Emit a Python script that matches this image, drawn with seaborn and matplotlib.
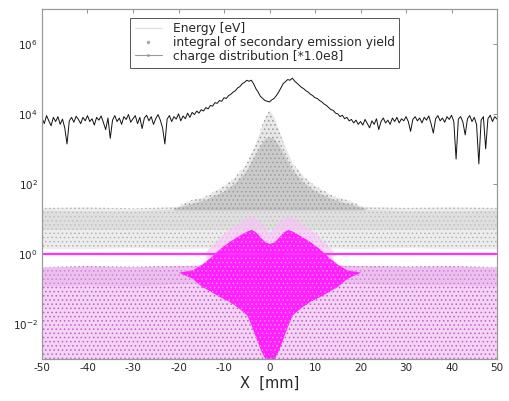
import numpy as np
import pandas as pd
import matplotlib
matplotlib.use("Agg")
import matplotlib.pyplot as plt
from matplotlib.lines import Line2D
import seaborn as sns

# ---- energy profile [eV] (log10 values), 0.5 mm steps from -50 to 50 ----
energy_log = [
    # -50 ... -17
    3.88, 3.72, 3.95, 3.80, 3.66, 3.90, 3.78, 3.92, 3.70, 3.85,
    3.60, 3.14, 3.80, 3.90, 3.76, 3.93, 3.84, 3.72, 3.90, 3.80,
    3.95, 3.78, 3.86, 3.68, 3.90, 3.82, 3.94, 3.75, 3.55, 3.88,
    3.30, 3.82, 3.95, 3.78, 3.88, 3.70, 3.92, 3.84, 3.98, 3.76,
    3.86, 3.95, 3.72, 3.90, 3.58, 3.88, 3.96, 3.80, 3.92, 3.70,
    3.86, 3.98, 3.82, 3.60, 3.14, 3.85, 3.95, 3.78, 3.92, 3.85,
    4.00, 3.80, 3.94, 3.86, 4.02, 3.90, 4.04,
    # -16.5 ... 20
    3.98, 4.08, 4.02, 4.12, 4.08, 4.18, 4.14, 4.24, 4.22, 4.32,
    4.30, 4.38, 4.36, 4.46, 4.44, 4.52, 4.56, 4.62, 4.66, 4.74,
    4.78, 4.86, 4.90, 4.96, 4.93, 4.96, 4.86, 4.72, 4.62, 4.50,
    4.44, 4.38, 4.36, 4.34, 4.40, 4.44, 4.52, 4.62, 4.74, 4.86,
    4.92, 4.98, 4.96, 5.02, 4.94, 4.88, 4.82, 4.76, 4.72, 4.66,
    4.62, 4.56, 4.52, 4.46, 4.44, 4.38, 4.34, 4.28, 4.24, 4.18,
    4.12, 4.10, 4.02, 4.00, 3.92, 3.96, 3.86, 3.90, 3.80, 3.84,
    3.74, 3.82, 3.70, 3.78,
    # 20.5 ... 50
    3.68, 3.84, 3.72, 3.60, 3.80, 3.70, 3.86, 3.55, 3.78, 3.88,
    3.74, 3.82, 3.70, 3.88, 3.78, 3.90, 3.74, 3.86, 3.80, 3.92,
    3.78, 3.50, 3.84, 3.92, 3.80, 3.88, 3.74, 3.90, 3.82, 3.94,
    3.72, 3.45, 3.86, 3.95, 3.80, 3.88, 3.76, 3.92, 3.84, 3.96,
    3.78, 2.71, 3.85, 3.92, 3.76, 3.40, 3.86, 3.95, 3.78, 3.90,
    3.70, 2.57, 3.82, 3.92, 3.00, 3.86, 3.96, 3.78, 3.92, 3.85,
]
energy_x = np.arange(-50, 50.01, 0.5)
energy_ev = [10 ** v for v in energy_log]

# ---- integral of secondary emission yield: broad band and central peak ----
yield_band_x = [-50, -40, -30, -20, -10, 0, 10, 20, 30, 40, 50]
yield_band_low = [1.4, 1.4, 1.5, 1.4, 1.5, 1.5, 1.5, 1.4, 1.5, 1.4, 1.4]
yield_band_high = [21, 22, 20, 23, 24, 24, 24, 23, 21, 22, 21]
yield_dense_low = [5, 5, 5, 5, 5, 5, 5, 5, 5, 5, 5]
yield_dense_high = [18, 17, 17, 19, 20, 20, 20, 19, 17, 17, 18]

yield_peak_x = [-21, -18, -14, -10, -7.5, -5, -3.6, -2, -1, 0,
                1, 2, 3.6, 5, 7.5, 10, 14, 18, 21]
yield_peak_top = [20, 32, 45, 89, 160, 400, 1000, 3500, 8000, 12600,
                  8000, 3500, 1000, 400, 160, 89, 45, 32, 20]
yield_peak_core = [20, 26, 36, 63, 110, 250, 560, 1300, 2000, 2200,
                   2000, 1300, 560, 250, 110, 63, 36, 26, 20]

# ---- charge distribution [*1.0e8] ----
charge_level = 1.0
charge_bg_x = [-50, -40, -30, -20, -10, 0, 10, 20, 30, 40, 50]
charge_bg_low = [0.001] * 11
charge_bg_high = [0.42, 0.45, 0.43, 0.46, 0.5, 0.5, 0.5, 0.46, 0.44, 0.45, 0.42]
charge_bg_dense = [0.12, 0.13, 0.12, 0.14, 0.15, 0.15, 0.15, 0.14, 0.13, 0.13, 0.12]

charge_core_x = [-20, -17, -15, -13, -11, -9, -7, -5, -4, -3, -2, -1, 0,
                 1, 2, 3, 4, 5, 7, 9, 11, 13, 15, 17, 20]
charge_core_top = [0.3, 0.35, 0.5, 0.8, 1.4, 2.2, 3.2, 4.5, 5.0, 4.2, 3.0, 2.2, 2.0,
                   2.2, 3.0, 4.2, 5.0, 4.5, 3.2, 2.2, 1.4, 0.8, 0.5, 0.35, 0.3]
charge_core_bot = [0.3, 0.2, 0.12, 0.085, 0.06, 0.045, 0.03, 0.018, 0.009, 0.004,
                   0.0018, 0.001, 0.001, 0.001, 0.0018, 0.004, 0.009, 0.018,
                   0.03, 0.045, 0.06, 0.085, 0.12, 0.2, 0.3]
charge_halo_x = [-14, -10, -6, -4, -2, 0, 2, 4, 6, 10, 14]
charge_halo_top = [1.2, 4, 9, 13, 8, 4, 8, 13, 9, 4, 1.2]

x_ticks = [-50, -40, -30, -20, -10, 0, 10, 20, 30, 40, 50]
y_ticks = [1e-2, 1e0, 1e2, 1e4, 1e6]

sns.set_style("white")
plt.rcParams["font.family"] = ["DejaVu Sans"]
plt.rcParams["hatch.linewidth"] = 0.6

fig = plt.figure(figsize=(5.09, 4.01), dpi=100)
ax = fig.add_axes([0.0825, 0.105, 0.894, 0.873])
ax.set_yscale("log")

# secondary emission yield clouds
ax.fill_between(yield_band_x, yield_band_low, yield_band_high,
                color="#e2e2e2", alpha=0.6, lw=0)
ax.fill_between(yield_band_x, yield_band_low, yield_band_high,
                facecolor="none", edgecolor="#b4b4b4", hatch="....", lw=0)
ax.fill_between(yield_band_x, yield_dense_low, yield_dense_high,
                color="#cfcfcf", alpha=0.45, lw=0)
ax.fill_between(yield_peak_x, [18] * len(yield_peak_x), yield_peak_top,
                color="#d6d6d6", alpha=0.55, lw=0)
ax.fill_between(yield_peak_x, [18] * len(yield_peak_x), yield_peak_top,
                facecolor="none", edgecolor="#9c9c9c", hatch="....", lw=0)
ax.fill_between(yield_peak_x, [18] * len(yield_peak_x), yield_peak_core,
                color="#9e9e9e", alpha=0.4, lw=0)

# charge distribution clouds
ax.fill_between(charge_bg_x, charge_bg_low, charge_bg_high,
                color="#f4d4f4", lw=0)
ax.fill_between(charge_bg_x, charge_bg_low, charge_bg_high,
                facecolor="none", edgecolor="#c25ec8", hatch="....", lw=0)
ax.fill_between(charge_bg_x, charge_bg_dense, charge_bg_high,
                color="#e4a8e8", alpha=0.45, lw=0)
ax.fill_between(charge_halo_x, [0.4] * len(charge_halo_x), charge_halo_top,
                color="#fbc0fb", alpha=0.6, lw=0)
ax.fill_between(charge_core_x, charge_core_bot, charge_core_top,
                color="#ff12ff", alpha=0.92, lw=0)
ax.fill_between(charge_core_x, charge_core_bot, charge_core_top,
                facecolor="none", edgecolor="#ff80ff", hatch="....", lw=0)

sns.lineplot(x=[-50, 50], y=[charge_level, charge_level], ax=ax,
             color="#ff33ff", lw=1.6)

# energy line
sns.lineplot(x=energy_x, y=energy_ev, ax=ax, color="#111111", lw=0.7)

ax.set_xlim(-50, 50)
ax.set_ylim(1e-3, 1e7)
ax.set_xticks(x_ticks)
ax.set_xticklabels([str(t) for t in x_ticks])
ax.set_yticks(y_ticks)
ax.set_yticklabels([r"$10^{%d}$" % int(np.log10(t)) for t in y_ticks])
ax.minorticks_off()
ax.tick_params(direction="in", length=3, width=0.6, color="#808080",
               top=True, right=True, labelsize=7.5, pad=3)
for s in ax.spines.values():
    s.set_color("#9a9a9a")
    s.set_linewidth(0.9)
ax.set_xlabel("X  [mm]", fontsize=10.5, labelpad=2)
ax.set_ylabel("")

handles = [
    Line2D([], [], color="#dddddd", lw=0.8),
    Line2D([], [], color="#aaaaaa", lw=0, marker=".", markersize=3),
    Line2D([], [], color="#999999", lw=0.8, marker=".", markersize=2),
]
labels = ["Energy [eV]", "integral of secondary emission yield",
          "charge distribution [*1.0e8]"]
leg = ax.legend(handles, labels, loc="upper left", bbox_to_anchor=(0.193, 0.975),
                fontsize=8.8, frameon=True, fancybox=False, framealpha=1,
                edgecolor="#555555", handlelength=2.2, handletextpad=0.9,
                borderpad=0.4, labelspacing=0.05, borderaxespad=0)
leg.get_frame().set_linewidth(0.7)

fig.savefig("out.png", dpi=100)
